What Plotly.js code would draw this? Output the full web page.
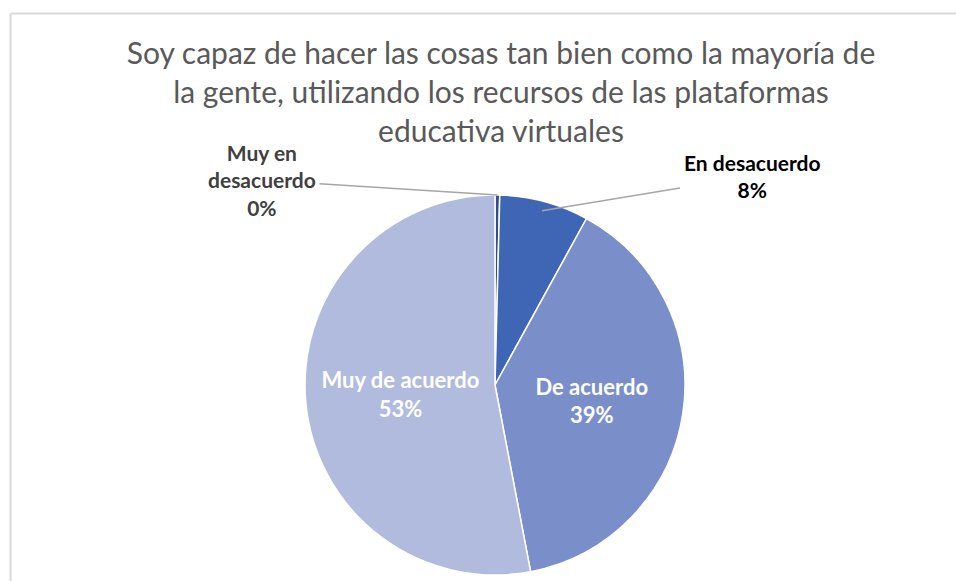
<!DOCTYPE html>
<html>
<head>
<meta charset="utf-8">
<script src="https://cdn.plot.ly/plotly-3.0.1.min.js"></script>
<style>
  html, body { margin: 0; padding: 0; background: #ffffff; overflow: hidden; }
  #chart { width: 956px; height: 581px; }
</style>
</head>
<body>
<div id="chart"></div>
<script>
// ---- data ----
const categories = ['Muy en desacuerdo', 'En desacuerdo', 'De acuerdo', 'Muy de acuerdo'];
const displayLabels = ['Muy en<br>desacuerdo', 'En desacuerdo', 'De acuerdo', 'Muy de acuerdo'];
const shares = [0.4, 7.6, 39.0, 53.0];
const labelInside = [false, false, true, true];
const sliceColors = ['#2E4E8C', '#3E66B4', '#7A8FCA', '#B0BBDD'];
const titleText = 'Soy capaz de hacer las cosas tan bien como la mayoría de<br>la gente, utilizando los recursos de las plataformas<br>educativa virtuales';

const W = 956, H = 581;
const px = v => v / W, py = v => 1 - v / H;
const FONT = 'Lato, "Open Sans", sans-serif';

// pie placement (pixels)
const CX = 495, CY = 385, R = 190;

const total = shares.reduce((a, b) => a + b, 0);
const pctText = shares.map(v => Math.round(v / total * 100) + '%');

const trace = {
  type: 'pie',
  labels: categories,
  values: shares,
  text: displayLabels,
  texttemplate: labelInside.map(f => f ? '<b>%{text}<br>%{percent:.0%}</b>' : ''),
  textposition: labelInside.map(f => f ? 'inside' : 'none'),
  insidetextorientation: 'horizontal',
  insidetextfont: { family: FONT, size: 22, color: '#ffffff' },
  marker: { colors: sliceColors, line: { color: '#ffffff', width: 1.5 } },
  sort: false,
  direction: 'clockwise',
  rotation: 0,
  showlegend: false,
  hoverinfo: 'label+percent',
  domain: { x: [px(CX - R), px(CX + R)], y: [py(CY + R), py(CY - R)] }
};

// leader-line anchors derived from the slice mid-angles
let cum = 0;
const tips = shares.map(v => {
  const mid = (cum + v / 2) / total * 2 * Math.PI;
  cum += v;
  return { x: CX + R * Math.sin(mid), y: CY - R * Math.cos(mid) };
});
const labelPos = [ { x: 262, y: 180, tipR: 1.0 }, { x: 752, y: 176, tipR: 0.95 } ];

const annotations = [];
[0, 1].forEach(i => {
  const t = { x: CX + (tips[i].x - CX) * labelPos[i].tipR, y: CY + (tips[i].y - CY) * labelPos[i].tipR };
  annotations.push({
    xref: 'paper', yref: 'paper',
    x: px(t.x), y: py(t.y),
    text: '<b>' + displayLabels[i] + '<br>' + pctText[i] + '</b>',
    showarrow: true, arrowhead: 0, arrowwidth: 1.5, arrowcolor: '#A6A6A6',
    standoff: 0, startstandoff: 2,
    ax: labelPos[i].x - t.x, ay: labelPos[i].y - t.y,
    font: { family: FONT, size: 21, color: i === 0 ? '#404040' : '#000000' },
    align: 'center'
  });
});

const layout = {
  width: W, height: H,
  margin: { l: 0, r: 0, t: 0, b: 0 },
  paper_bgcolor: '#ffffff',
  title: {
    text: titleText,
    font: { family: FONT, size: 30, color: '#595959' },
    x: px(501), xanchor: 'center',
    y: py(64), yanchor: 'top'
  },
  annotations: annotations,
  shapes: [
    { type: 'line', xref: 'paper', yref: 'paper', x0: px(10.5), x1: 1.01, y0: py(13.5), y1: py(13.5), line: { color: '#D9D9D9', width: 2 } },
    { type: 'line', xref: 'paper', yref: 'paper', x0: px(10.5), x1: px(10.5), y0: py(13.5), y1: -0.01, line: { color: '#D9D9D9', width: 2 } }
  ]
};

Plotly.newPlot('chart', [trace], layout, { displayModeBar: false, staticPlot: true });
</script>
</body>
</html>
